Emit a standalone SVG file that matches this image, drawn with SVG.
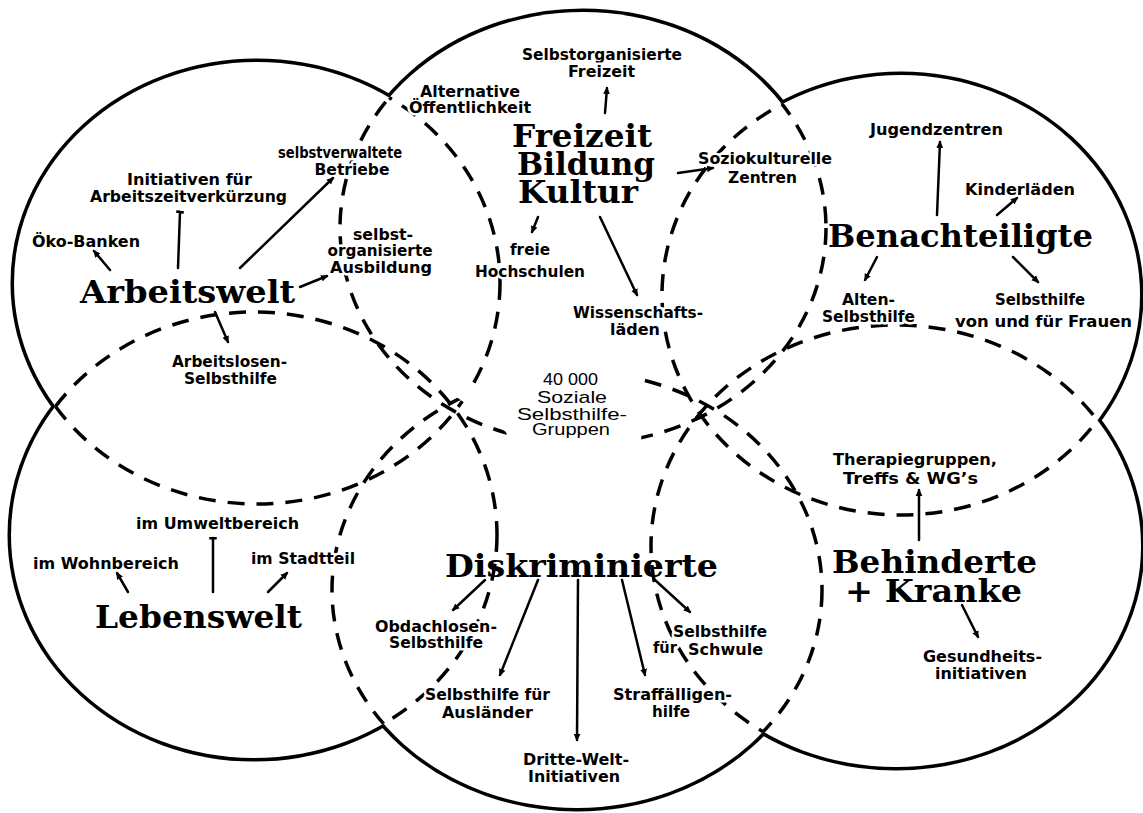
<svg xmlns="http://www.w3.org/2000/svg" width="1143" height="813" viewBox="0 0 1143 813">
<style>
  text{fill:#000;stroke:#fff;stroke-width:5px;stroke-linejoin:round;paint-order:stroke;text-anchor:middle}
  .title{font-family:"DejaVu Serif","Liberation Serif",serif;font-weight:bold;font-size:31px;stroke:none}
  .lbl{font-family:"DejaVu Sans","Liberation Sans",sans-serif;font-weight:bold;font-size:16px}
  .hub{font-family:"Liberation Sans",Arial,sans-serif;font-size:17px}
  .edge{stroke:#000;stroke-width:2.5;fill:none;stroke-linecap:round}
  .dash{fill:none;stroke:#000;stroke-width:3.5;stroke-dasharray:17 12}
</style>
<defs>
  <!-- the six fields -->
  <ellipse id="e-arbeit" cx="257" cy="283" rx="243" ry="221"/>
  <ellipse id="e-freizeit" cx="583" cy="228" rx="243" ry="216"/>
  <ellipse id="e-benach" cx="901" cy="295" rx="239" ry="220"/>
  <ellipse id="e-leben" cx="254" cy="535" rx="243" ry="223"/>
  <ellipse id="e-diskr" cx="577" cy="590" rx="245" ry="218"/>
  <ellipse id="e-behind" cx="896" cy="546" rx="245" ry="221"/>
  <!-- quiet zone around the central caption -->
  <path id="hub-clear" d="M455,396 L500,372 L560,361 L633,367 L642,400 L641,452 L512,454 L506,432 Z"/>

  <!-- each field's border is dashed only where it runs inside another field -->
  <mask id="m-arbeit" maskUnits="userSpaceOnUse" x="0" y="0" width="1143" height="813">
    <rect width="1143" height="813" fill="#000"/>
    <use href="#e-freizeit" fill="#fff"/><use href="#e-benach" fill="#fff"/><use href="#e-leben" fill="#fff"/><use href="#e-diskr" fill="#fff"/><use href="#e-behind" fill="#fff"/>
    <use href="#hub-clear" fill="#000"/>
  </mask>
  <mask id="m-freizeit" maskUnits="userSpaceOnUse" x="0" y="0" width="1143" height="813">
    <rect width="1143" height="813" fill="#000"/>
    <use href="#e-arbeit" fill="#fff"/><use href="#e-benach" fill="#fff"/><use href="#e-leben" fill="#fff"/><use href="#e-diskr" fill="#fff"/><use href="#e-behind" fill="#fff"/>
    <use href="#hub-clear" fill="#000"/>
  </mask>
  <mask id="m-benach" maskUnits="userSpaceOnUse" x="0" y="0" width="1143" height="813">
    <rect width="1143" height="813" fill="#000"/>
    <use href="#e-arbeit" fill="#fff"/><use href="#e-freizeit" fill="#fff"/><use href="#e-leben" fill="#fff"/><use href="#e-diskr" fill="#fff"/><use href="#e-behind" fill="#fff"/>
    <use href="#hub-clear" fill="#000"/>
  </mask>
  <mask id="m-leben" maskUnits="userSpaceOnUse" x="0" y="0" width="1143" height="813">
    <rect width="1143" height="813" fill="#000"/>
    <use href="#e-arbeit" fill="#fff"/><use href="#e-freizeit" fill="#fff"/><use href="#e-benach" fill="#fff"/><use href="#e-diskr" fill="#fff"/><use href="#e-behind" fill="#fff"/>
    <use href="#hub-clear" fill="#000"/>
  </mask>
  <mask id="m-diskr" maskUnits="userSpaceOnUse" x="0" y="0" width="1143" height="813">
    <rect width="1143" height="813" fill="#000"/>
    <use href="#e-arbeit" fill="#fff"/><use href="#e-freizeit" fill="#fff"/><use href="#e-benach" fill="#fff"/><use href="#e-leben" fill="#fff"/><use href="#e-behind" fill="#fff"/>
    <use href="#hub-clear" fill="#000"/>
  </mask>
  <mask id="m-behind" maskUnits="userSpaceOnUse" x="0" y="0" width="1143" height="813">
    <rect width="1143" height="813" fill="#000"/>
    <use href="#e-arbeit" fill="#fff"/><use href="#e-freizeit" fill="#fff"/><use href="#e-benach" fill="#fff"/><use href="#e-leben" fill="#fff"/><use href="#e-diskr" fill="#fff"/>
    <use href="#hub-clear" fill="#000"/>
  </mask>

  <marker id="head" viewBox="0 0 10 10" refX="8" refY="5" markerWidth="3" markerHeight="3" orient="auto" markerUnits="strokeWidth">
    <path d="M0,0.5 L10,5 L0,9.5 z" fill="#000"/>
  </marker>
  <marker id="bar" viewBox="0 0 4 10" refX="2" refY="5" markerWidth="1.2" markerHeight="3" orient="auto" markerUnits="strokeWidth">
    <rect x="0" y="0" width="4" height="10" fill="#000"/>
  </marker>
</defs>

<rect width="1143" height="813" fill="#fff"/>

<!-- solid outer contour of the union -->
<g id="outline">
  <g fill="none" stroke="#000" stroke-width="7">
    <use href="#e-arbeit"/><use href="#e-freizeit"/><use href="#e-benach"/>
    <use href="#e-leben"/><use href="#e-diskr"/><use href="#e-behind"/>
  </g>
  <g fill="#fff" stroke="none">
    <use href="#e-arbeit"/><use href="#e-freizeit"/><use href="#e-benach"/>
    <use href="#e-leben"/><use href="#e-diskr"/><use href="#e-behind"/>
  </g>
</g>

<!-- dashed borders inside the overlaps -->
<g id="overlaps">
  <use href="#e-arbeit" class="dash" mask="url(#m-arbeit)"/>
  <use href="#e-freizeit" class="dash" mask="url(#m-freizeit)"/>
  <use href="#e-benach" class="dash" mask="url(#m-benach)"/>
  <use href="#e-leben" class="dash" mask="url(#m-leben)"/>
  <use href="#e-diskr" class="dash" mask="url(#m-diskr)"/>
  <use href="#e-behind" class="dash" mask="url(#m-behind)"/>
</g>

<g id="node-arbeitswelt">
  <text class="title" x="187.5" y="303" textLength="215" lengthAdjust="spacingAndGlyphs">Arbeitswelt</text>
  <text class="lbl" x="86" y="247" textLength="108" lengthAdjust="spacingAndGlyphs">Öko-Banken</text>
  <text class="lbl" x="189.5" y="185" textLength="125" lengthAdjust="spacingAndGlyphs">Initiativen für</text>
  <text class="lbl" x="188.5" y="202" textLength="197" lengthAdjust="spacingAndGlyphs">Arbeitszeitverkürzung</text>
  <text class="lbl" x="340" y="158" textLength="124" lengthAdjust="spacingAndGlyphs">selbstverwaltete</text>
  <text class="lbl" x="352" y="175" textLength="75" lengthAdjust="spacingAndGlyphs">Betriebe</text>
  <text class="lbl" x="383" y="240" textLength="60" lengthAdjust="spacingAndGlyphs">selbst-</text>
  <text class="lbl" x="380" y="256" textLength="105" lengthAdjust="spacingAndGlyphs">organisierte</text>
  <text class="lbl" x="381" y="273" textLength="102" lengthAdjust="spacingAndGlyphs">Ausbildung</text>
  <text class="lbl" x="229.5" y="367" textLength="115" lengthAdjust="spacingAndGlyphs">Arbeitslosen-</text>
  <text class="lbl" x="230.5" y="384" textLength="93" lengthAdjust="spacingAndGlyphs">Selbsthilfe</text>
</g>

<g id="node-freizeit">
  <text class="title" x="582" y="147" textLength="140" lengthAdjust="spacingAndGlyphs">Freizeit</text>
  <text class="title" x="586" y="175" textLength="138" lengthAdjust="spacingAndGlyphs">Bildung</text>
  <text class="title" x="578" y="203" textLength="120" lengthAdjust="spacingAndGlyphs">Kultur</text>
  <text class="lbl" x="602" y="60" textLength="160" lengthAdjust="spacingAndGlyphs">Selbstorganisierte</text>
  <text class="lbl" x="601.5" y="77" textLength="67" lengthAdjust="spacingAndGlyphs">Freizeit</text>
  <text class="lbl" x="470" y="97" textLength="100" lengthAdjust="spacingAndGlyphs">Alternative</text>
  <text class="lbl" x="470" y="113" textLength="122" lengthAdjust="spacingAndGlyphs">Öffentlichkeit</text>
  <text class="lbl" x="530" y="255" textLength="40" lengthAdjust="spacingAndGlyphs">freie</text>
  <text class="lbl" x="530" y="277" textLength="110" lengthAdjust="spacingAndGlyphs">Hochschulen</text>
  <text class="lbl" x="765" y="164" textLength="134" lengthAdjust="spacingAndGlyphs">Soziokulturelle</text>
  <text class="lbl" x="762.5" y="183" textLength="69" lengthAdjust="spacingAndGlyphs">Zentren</text>
  <text class="lbl" x="638" y="318" textLength="130" lengthAdjust="spacingAndGlyphs">Wissenschafts-</text>
  <text class="lbl" x="635" y="335" textLength="50" lengthAdjust="spacingAndGlyphs">läden</text>
</g>

<g id="node-benachteiligte">
  <text class="title" x="960.5" y="247" textLength="265" lengthAdjust="spacingAndGlyphs">Benachteiligte</text>
  <text class="lbl" x="936.5" y="135" textLength="133" lengthAdjust="spacingAndGlyphs">Jugendzentren</text>
  <text class="lbl" x="1020" y="195" textLength="110" lengthAdjust="spacingAndGlyphs">Kinderläden</text>
  <text class="lbl" x="868.5" y="305" textLength="53" lengthAdjust="spacingAndGlyphs">Alten-</text>
  <text class="lbl" x="868.5" y="322" textLength="93" lengthAdjust="spacingAndGlyphs">Selbsthilfe</text>
  <text class="lbl" x="1040" y="305" textLength="90" lengthAdjust="spacingAndGlyphs">Selbsthilfe</text>
  <text class="lbl" x="1043.5" y="327" textLength="177" lengthAdjust="spacingAndGlyphs">von und für Frauen</text>
</g>

<g id="node-lebenswelt">
  <text class="title" x="198.5" y="628" textLength="207" lengthAdjust="spacingAndGlyphs">Lebenswelt</text>
  <text class="lbl" x="217.5" y="529" textLength="163" lengthAdjust="spacingAndGlyphs">im Umweltbereich</text>
  <text class="lbl" x="106" y="569" textLength="146" lengthAdjust="spacingAndGlyphs">im Wohnbereich</text>
  <text class="lbl" x="303" y="564" textLength="104" lengthAdjust="spacingAndGlyphs">im Stadtteil</text>
</g>

<g id="node-diskriminierte">
  <text class="title" x="581.5" y="577" textLength="273" lengthAdjust="spacingAndGlyphs">Diskriminierte</text>
  <text class="lbl" x="436" y="632" textLength="122" lengthAdjust="spacingAndGlyphs">Obdachlosen-</text>
  <text class="lbl" x="436" y="648" textLength="94" lengthAdjust="spacingAndGlyphs">Selbsthilfe</text>
  <text class="lbl" x="487.5" y="700" textLength="125" lengthAdjust="spacingAndGlyphs">Selbsthilfe für</text>
  <text class="lbl" x="487.5" y="718" textLength="91" lengthAdjust="spacingAndGlyphs">Ausländer</text>
  <text class="lbl" x="576" y="765" textLength="106" lengthAdjust="spacingAndGlyphs">Dritte-Welt-</text>
  <text class="lbl" x="574" y="782" textLength="92" lengthAdjust="spacingAndGlyphs">Initiativen</text>
  <text class="lbl" x="672.5" y="700" textLength="119" lengthAdjust="spacingAndGlyphs">Straffälligen-</text>
  <text class="lbl" x="671" y="717" textLength="38" lengthAdjust="spacingAndGlyphs">hilfe</text>
  <text class="lbl" x="720" y="637" textLength="94" lengthAdjust="spacingAndGlyphs">Selbsthilfe</text>
  <text class="lbl" x="665" y="653" textLength="24" lengthAdjust="spacingAndGlyphs">für</text>
  <text class="lbl" x="725.5" y="655" textLength="75" lengthAdjust="spacingAndGlyphs">Schwule</text>
</g>

<g id="node-behinderte">
  <text class="title" x="934.5" y="573" textLength="205" lengthAdjust="spacingAndGlyphs">Behinderte</text>
  <text class="title" x="933.5" y="602" textLength="177" lengthAdjust="spacingAndGlyphs">+ Kranke</text>
  <text class="lbl" x="915" y="465" textLength="164" lengthAdjust="spacingAndGlyphs">Therapiegruppen,</text>
  <text class="lbl" x="910.5" y="484" textLength="135" lengthAdjust="spacingAndGlyphs">Treffs &amp; WG’s</text>
  <text class="lbl" x="982.5" y="662" textLength="119" lengthAdjust="spacingAndGlyphs">Gesundheits-</text>
  <text class="lbl" x="981" y="679" textLength="92" lengthAdjust="spacingAndGlyphs">initiativen</text>
</g>

<g id="node-center">
  <text class="hub" x="570.5" y="385" textLength="55" lengthAdjust="spacingAndGlyphs">40 000</text>
  <text class="hub" x="572" y="403" textLength="70" lengthAdjust="spacingAndGlyphs">Soziale</text>
  <text class="hub" x="572" y="420" textLength="110" lengthAdjust="spacingAndGlyphs">Selbsthilfe-</text>
  <text class="hub" x="571" y="435" textLength="78" lengthAdjust="spacingAndGlyphs">Gruppen</text>
</g>

<g id="connectors">
  <line class="edge" x1="110" y1="270" x2="94" y2="251" marker-end="url(#head)"/>
  <line class="edge" x1="178" y1="268" x2="180" y2="212" marker-end="url(#bar)"/>
  <line class="edge" x1="240" y1="268" x2="333" y2="178" marker-end="url(#head)"/>
  <line class="edge" x1="300" y1="287" x2="327" y2="276" marker-end="url(#head)"/>
  <line class="edge" x1="215" y1="312" x2="228" y2="342" marker-end="url(#head)"/>
  <line class="edge" x1="605" y1="113" x2="607" y2="88" marker-end="url(#head)"/>
  <line class="edge" x1="538" y1="217" x2="532" y2="232" marker-end="url(#head)"/>
  <line class="edge" x1="600" y1="217" x2="637" y2="295" marker-end="url(#head)"/>
  <line class="edge" x1="678" y1="173" x2="713" y2="168" marker-end="url(#head)"/>
  <line class="edge" x1="937" y1="215" x2="940" y2="142" marker-end="url(#head)"/>
  <line class="edge" x1="997" y1="215" x2="1017" y2="198" marker-end="url(#head)"/>
  <line class="edge" x1="877" y1="257" x2="865" y2="280" marker-end="url(#head)"/>
  <line class="edge" x1="1013" y1="257" x2="1038" y2="282" marker-end="url(#head)"/>
  <line class="edge" x1="919" y1="540" x2="919" y2="490" marker-end="url(#head)"/>
  <line class="edge" x1="962" y1="605" x2="978" y2="637" marker-end="url(#head)"/>
  <line class="edge" x1="128" y1="592" x2="117" y2="573" marker-end="url(#head)"/>
  <line class="edge" x1="213" y1="592" x2="213" y2="538" marker-end="url(#bar)"/>
  <line class="edge" x1="268" y1="592" x2="287" y2="573" marker-end="url(#head)"/>
  <line class="edge" x1="485" y1="580" x2="453" y2="610" marker-end="url(#head)"/>
  <line class="edge" x1="538" y1="580" x2="500" y2="675" marker-end="url(#head)"/>
  <line class="edge" x1="578" y1="580" x2="577" y2="740" marker-end="url(#head)"/>
  <line class="edge" x1="622" y1="580" x2="645" y2="675" marker-end="url(#head)"/>
  <line class="edge" x1="655" y1="580" x2="690" y2="612" marker-end="url(#head)"/>
</g>
</svg>
